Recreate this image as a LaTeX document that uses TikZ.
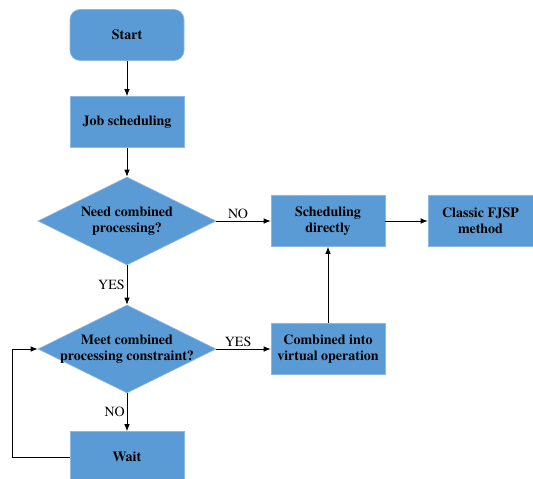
\documentclass[tikz,border=0pt]{standalone}
\usepackage{fontspec}
\setmainfont{TeX Gyre Termes}
\usetikzlibrary{shapes.geometric,arrows.meta,positioning}
\definecolor{boxblue}{RGB}{91,155,213}
\definecolor{boxedge}{RGB}{140,185,228}

\begin{document}
\begin{tikzpicture}[
    x=1pt, y=-1pt,
    block/.style={rectangle, draw=boxedge, line width=0.6pt, fill=boxblue, minimum width=114pt, minimum height=51pt, align=center, font=\fontsize{14}{16}\selectfont\bfseries},
    startbox/.style={block, rounded corners=10pt},
    decision/.style={diamond, draw=boxedge, line width=0.6pt, fill=boxblue, minimum width=178pt, minimum height=88pt, inner sep=0pt},
    dtext/.style={align=center, font=\fontsize{14}{16}\selectfont\bfseries, inner sep=0pt},
    tag/.style={font=\fontsize{14}{16}\selectfont, inner sep=2pt},
    flow/.style={-{Latex[length=7pt,width=5.5pt]}, line width=0.8pt, black}
]
    \useasboundingbox (0,0) rectangle (533,479);

    \node[startbox] (start) at (127,35) {Start};
    \node[block] (job) at (127,122) {Job scheduling};
    \node[decision, label={[dtext]center:Need combined\\processing?}] (need) at (127,221) {};
    \node[block] (sched) at (328,221) {Scheduling\\directly};
    \node[block, minimum width=105pt] (classic) at (480.5,221) {Classic FJSP\\method};
    \node[decision, label={[dtext]center:Meet combined\\processing constraint?}] (meet) at (127,349) {};
    \node[block] (comb) at (328,349) {Combined into\\virtual operation};
    \node[block] (wait) at (127,457) {Wait};

    \draw[flow] (start) -- (job);
    \draw[flow] (job) -- (need);
    \draw[flow] (need.east) -- node[tag, above, pos=0.4] {NO} (sched.west);
    \draw[flow] (sched) -- (classic);
    \draw[flow] (need.south) -- node[tag, left] {YES} (meet.north);
    \draw[flow] (meet.east) -- node[tag, above, pos=0.4] {YES} (comb.west);
    \draw[flow] (comb) -- (sched);
    \draw[flow] (meet.south) -- node[tag, left] {NO} (wait.north);
    \draw[flow] (wait.west) -- ++(-57,0) |- (meet.west);
\end{tikzpicture}
\end{document}
